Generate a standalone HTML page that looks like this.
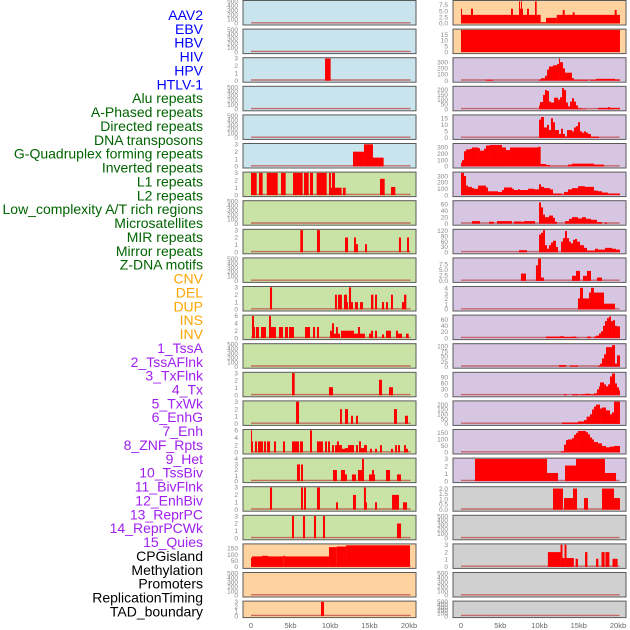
<!DOCTYPE html>
<html><head><meta charset="utf-8">
<style>
html,body{margin:0;padding:0;background:#fff;}
svg{display:block;font-family:"Liberation Sans",sans-serif;}
</style></head>
<body>
<svg id="chart" width="630" height="630" viewBox="0 0 630 630"></svg>
<script>
const labels = ["AAV2","EBV","HBV","HIV","HPV","HTLV-1","Alu repeats","A-Phased repeats","Directed repeats","DNA transposons","G-Quadruplex forming repeats","Inverted repeats","L1 repeats","L2 repeats","Low_complexity A/T rich regions","Microsatellites","MIR repeats","Mirror repeats","Z-DNA motifs","CNV","DEL","DUP","INS","INV","1_TssA","2_TssAFlnk","3_TxFlnk","4_Tx","5_TxWk","6_EnhG","7_Enh","8_ZNF_Rpts","9_Het","10_TssBiv","11_BivFlnk","12_EnhBiv","13_ReprPC","14_ReprPCWk","15_Quies","CPGisland","Methylation","Promoters","ReplicationTiming","TAD_boundary"];
const labelGroups = [6,13,5,15,5];
const groupColors = ["#0000ff","#006400","#ffa500","#a020f0","#000000"];
const xTicks = [0,5,10,15,20];
const xTickLabels = ["0","5kb","10kb","15kb","20kb"];
const E = [0,100,200,300,400,500];
const T3 = [0,1,2,3];
// left column: segments [startKb, endKb, value]
const leftMax = [500,500,3,500,500,3,3,500,3,500,3,6,500,3,3,6,4,3,3,180,500,3];
const leftTicks = [E,E,T3,E,E,T3,T3,E,T3,E,T3,[0,2,4,6],E,T3,T3,[0,2,4,6],[0,1,2,3,4],T3,T3,[0,50,100,150],E,T3];
const leftSegs = [
[],[],[[9.37,10.08,3]],[],[],
[[12.91,14.3,2],[14.3,15.44,3],[15.44,16.79,1.2]],
[[0,0.72,3],[1.01,1.47,3],[2.0,3.38,3],[3.8,4.39,3],[5.32,6.54,3],[6.71,7.3,3],[7.47,7.85,3],[8.31,9.58,3],[9.87,10.12,3],[10.25,10.63,3],[9.95,11.47,1],[11.64,11.98,1],[16.33,16.92,2.2],[17.72,18.27,1.1]],
[],
[[6.24,6.58,3],[8.35,8.73,3],[11.9,12.28,2],[13.04,13.29,2],[13.29,13.54,1.1],[14.43,14.68,1.1],[18.73,18.99,2],[19.75,20.0,2]],
[],
[[2.4,2.66,3],[10.63,10.88,2],[11.01,11.51,2],[11.77,12.15,2],[12.15,12.28,1],[12.4,12.66,3],[12.66,12.91,1],[13.16,13.54,1],[13.8,14.17,1],[15.19,15.49,2],[15.7,15.95,2],[16.58,16.84,1],[17.09,17.34,1],[17.72,17.97,2],[19.11,19.37,1],[19.37,19.66,2]],
[[0.13,0.38,6],[0.38,0.5,3],[0.63,1.01,3],[1.27,1.9,3],[2.28,2.53,6],[2.28,3.16,3],[3.54,4.05,3],[4.3,4.68,3],[4.81,5.44,3],[6.84,7.47,3],[7.85,8.1,3],[8.35,8.6,3],[10.0,10.25,2],[10.25,10.5,4],[10.5,11.27,1.2],[10.76,11.0,3],[11.39,13.04,2],[13.04,14.43,1.2],[13.54,13.8,3],[14.94,15.44,1.2],[15.19,15.44,2],[15.7,15.95,2],[16.58,16.84,1],[17.09,17.72,2],[18.35,18.6,2],[18.6,19.11,1.2],[19.62,19.96,1.2]],
[],
[[5.19,5.53,3],[9.87,10.38,1.1],[16.2,16.58,2.1],[17.47,17.97,1.1]],
[[5.7,6.08,3],[11.27,11.51,2],[11.9,12.28,2],[12.66,12.91,1.1],[13.29,13.54,1.1],[18.1,18.48,2],[19.49,19.87,1.1]],
[[0,0.13,6],[0.13,0.25,3],[0.5,0.76,3],[0.88,1.52,3],[1.65,1.9,3],[2.03,2.41,3],[2.91,3.16,3],[4.05,4.3,3],[5.19,6.08,3],[6.2,6.58,3],[7.47,7.72,6],[8.35,9.11,3],[9.37,9.62,3],[9.75,10.0,3],[10.25,10.5,2],[10.63,11.51,2],[10.88,11.14,3],[11.51,11.9,1],[11.9,12.28,1.2],[12.28,13.04,2],[13.29,13.54,2],[13.67,13.92,3],[13.8,14.43,1.2],[14.3,14.68,2],[15.06,15.32,1],[15.7,15.95,1],[16.33,16.58,2],[17.72,17.97,1],[18.23,18.48,2],[18.61,18.86,2],[19.37,19.62,2],[19.62,19.87,1]],
[[5.82,6.2,3],[6.33,6.58,3],[10.38,10.88,2],[11.39,11.9,2],[11.9,12.15,1.2],[12.78,13.29,1.2],[13.54,14.3,2],[14.05,14.3,4],[14.94,15.7,1.2],[15.32,15.57,2],[17.09,17.6,2],[18.48,18.99,1.2]],
[[2.4,2.66,3],[6.33,6.58,3],[6.71,6.96,3],[8.35,8.73,3],[10.76,11.01,1],[12.91,13.29,2],[14.3,14.55,3],[14.43,14.68,1],[15.7,15.95,1],[17.85,18.73,2],[19.24,19.75,1]],
[[5.19,5.44,3],[6.58,6.84,3],[7.97,8.23,3],[9.11,9.37,3],[18.48,18.99,2]],
[[0,0.13,75],[0.13,1.39,85],[1.39,2.15,90],[2.15,4.09,85],[4.09,4.3,90],[4.3,9.87,85],[9.87,10.84,160],[10.84,12.03,165],[12.03,20.13,175]],
[],
[[8.86,9.24,3]]
];
// right column
const rightMax = [9,19,360,230,17,350,350,68,125,10,4.2,72,108,112,230,170,3,2.1,500,3,500,500];
const rightTicks = [[0,2.5,5,7.5],[0,5,10,15],[0,100,200,300],[0,50,100,150,200],[0,5,10,15],[0,100,200,300],[0,100,200,300],[0,20,40,60],[0,30,60,90,120],[0,2.5,5,7.5],[0,1,2,3,4],[0,20,40,60],[0,25,50,75,100],[0,30,60,90],[0,50,100,150,200],[0,50,100,150],T3,[0,0.5,1,1.5,2],E,T3,E,E];
const rightSegs = [
[[0,10.15,3.5],[0,0.13,6],[1.27,1.53,6],[6.37,6.62,6],[7.39,7.9,6],[7.39,7.52,9],[7.64,7.77,9],[8.41,8.66,6],[9.43,9.64,9],[10.15,10.83,0.5],[10.83,12.19,2.3],[12.19,20.25,3.5],[12.95,13.21,5.5],[14.23,14.48,4.5],[19.58,19.83,5.5]],
[[0,20.25,19]],
[[3.18,4.08,15],[9.94,10.19,20],[10.19,10.7,40],[10.7,10.96,80],[10.96,11.21,180],[11.21,11.72,230],[11.72,12.23,250],[12.23,12.48,270],[12.48,12.61,360],[12.61,12.99,300],[12.99,13.25,200],[13.25,14.14,130],[14.14,14.39,40],[14.39,16.18,15],[16.43,17.2,15],[17.2,19.62,30],[19.62,20.25,20]],
[[9.94,10.06,40],[10.06,10.45,75],[10.45,10.7,150],[10.7,10.96,200],[10.96,11.21,190],[11.21,11.46,80],[11.46,11.85,70],[11.85,12.36,120],[12.36,12.61,100],[12.61,12.87,125],[12.87,13.12,220],[13.12,13.38,200],[13.38,13.63,70],[13.63,13.89,30],[13.89,14.14,80],[14.14,14.39,115],[14.39,14.65,80],[14.65,14.9,40],[14.9,15.41,10],[15.41,15.92,5],[17.45,20.25,15],[18.73,18.98,22]],
[[9.94,10.19,14],[10.19,10.57,16],[10.57,10.96,8],[10.96,11.21,10],[11.21,11.46,6],[11.46,11.72,15],[11.72,11.97,12],[11.97,12.48,6],[12.48,12.74,3],[12.74,12.99,7],[12.99,13.25,3],[13.25,13.5,1],[13.5,14.14,6],[14.14,14.39,5],[14.39,14.65,8],[14.65,14.9,9],[14.9,15.16,12],[15.16,15.41,5],[15.41,15.67,4],[15.67,15.92,5],[15.92,16.18,4],[16.18,16.56,3],[16.56,17.58,1]],
[[0,0.13,60],[0.13,0.38,100],[0.38,0.64,240],[0.64,1.15,270],[1.15,1.4,280],[1.4,2.17,300],[2.17,2.42,290],[2.42,2.93,250],[2.93,3.18,280],[3.18,3.69,330],[3.69,5.22,340],[5.22,5.73,300],[5.73,6.24,260],[6.24,9.81,300],[9.81,10.15,310],[10.15,10.83,40],[10.83,11.34,25],[11.34,13.63,5],[13.63,14.14,30],[14.14,16.94,45],[16.94,18.22,30]],
[[0,0.38,350],[0.38,0.64,300],[0.64,0.89,150],[0.89,1.4,130],[1.4,1.66,110],[1.66,2.17,100],[2.17,3.18,150],[3.18,3.44,120],[3.44,4.71,60],[4.71,5.22,50],[5.22,5.48,80],[5.48,6.5,120],[6.5,6.75,100],[6.75,7.26,80],[7.26,7.52,90],[7.52,8.54,80],[8.54,9.3,100],[9.3,9.94,90],[9.94,10.19,170],[10.19,10.57,130],[10.57,11.34,110],[11.34,11.72,90],[11.72,12.87,25],[12.87,13.12,10],[13.12,13.63,50],[13.63,14.14,90],[14.14,14.9,110],[14.9,15.8,140],[15.8,16.94,130],[16.94,17.45,70],[17.45,17.96,60],[17.96,18.73,40],[18.73,20.25,25]],
[[1.4,2.42,8],[3.57,4.2,6],[4.59,6.5,8],[6.75,7.64,7],[7.64,8.03,6],[8.03,9.43,8],[9.94,10.19,65],[10.19,10.45,50],[10.45,10.7,28],[10.7,11.21,20],[11.21,11.72,25],[11.72,11.97,18],[11.97,12.23,6],[13.25,13.76,8],[13.76,14.14,15],[14.14,14.9,20],[14.9,15.41,16],[15.41,15.92,20],[15.92,16.56,15],[16.56,17.32,12],[17.32,17.96,5],[18.34,18.6,4]],
[[7.39,8.41,12],[9.94,10.19,100],[10.19,10.45,110],[10.45,10.7,125],[10.7,10.96,40],[10.96,11.21,20],[11.21,11.46,40],[11.46,11.72,55],[11.72,12.1,65],[12.1,12.36,30],[12.74,12.99,60],[12.99,13.25,80],[13.25,13.5,120],[13.5,13.76,80],[13.76,14.01,60],[14.01,14.27,50],[14.27,14.52,70],[14.52,14.78,75],[14.78,15.16,60],[15.16,15.67,40],[15.67,16.05,25],[16.05,17.07,10],[17.07,17.45,20],[17.45,18.34,15],[18.34,19.24,25],[19.24,19.75,20],[19.75,20.25,15]],
[[7.64,8.28,3.3],[9.55,9.81,7],[9.81,10.19,10],[10.19,10.57,1.5],[14.14,14.78,2.3],[14.65,15.16,4.5],[15.54,16.05,2.3],[16.05,16.56,4.5],[17.32,17.96,1.5]],
[[14.9,15.16,2.1],[15.16,15.54,4.1],[15.54,16.31,2.1],[16.31,16.56,3.2],[16.56,16.94,4.1],[16.94,18.22,3.2],[18.22,19.62,1.1]],
[[10.83,12.61,5],[12.61,13.12,6],[13.12,14.14,4],[14.14,14.65,5],[14.65,14.9,2],[16.05,16.56,5],[16.94,17.2,5],[17.2,17.58,8],[17.58,17.83,15],[17.83,18.09,22],[18.09,18.34,40],[18.34,18.6,55],[18.6,18.85,65],[18.85,19.11,70],[19.11,19.36,55],[19.36,19.62,58],[19.62,19.87,40],[19.87,20.25,38]],
[[12.48,13.38,8],[13.89,14.9,6],[17.45,17.71,5],[17.71,17.96,15],[17.96,18.22,40],[18.22,18.47,60],[18.47,19.24,95],[19.24,19.62,105],[19.62,19.87,15],[19.87,20.25,55]],
[[13.12,13.5,5],[14.14,15.03,5],[15.16,15.8,5],[15.8,16.43,8],[16.43,16.94,5],[16.94,17.32,10],[17.32,17.58,30],[17.58,17.71,45],[17.71,18.22,65],[18.22,18.47,55],[18.47,18.73,45],[18.73,18.98,55],[18.98,19.24,95],[19.24,19.62,110],[19.62,19.87,60],[19.87,20.13,40],[20.13,20.25,25]],
[[12.87,14.9,15],[14.9,15.67,25],[15.67,16.0,40],[16.0,16.43,75],[16.43,16.69,100],[16.69,16.94,150],[16.94,17.2,180],[17.2,17.71,200],[17.71,17.96,160],[17.96,18.47,170],[18.47,18.98,140],[18.98,19.24,100],[19.24,19.49,120],[19.49,20.25,230]],
[[12.74,13.12,10],[13.12,13.38,60],[13.38,13.63,95],[13.63,14.14,100],[14.14,14.39,110],[14.39,14.65,135],[14.65,14.9,150],[14.9,15.92,165],[15.92,16.18,155],[16.18,16.43,140],[16.43,16.69,115],[16.69,16.94,100],[16.94,17.45,80],[17.45,17.96,70],[17.96,18.47,50],[18.47,18.98,40],[18.98,19.49,45],[19.49,20.25,50]],
[[1.78,10.96,3],[10.96,12.36,1.1],[13.25,14.65,2.1],[14.65,18.34,3],[18.34,19.75,1.1]],
[[11.72,12.99,2],[13.12,14.27,1.1],[14.27,14.78,2],[15.67,16.18,1.1],[17.96,19.49,2],[19.49,20.25,1.1]],
[],
[[11.07,12.68,2],[12.68,12.93,3],[12.93,13.19,1.2],[13.19,13.44,3],[13.44,14.38,1.2],[14.6,14.9,1.1],[15.8,16.1,2],[17.2,17.5,1.1],[17.9,18.3,2],[18.4,18.9,2],[19.3,19.7,1.1],[19.7,19.95,1.1]],
[],[]
];
const leftBg = ["#c9e4ec","#c9e2a6","#fed3a0"];
const rightBg = ["#fed3a0","#d6c6e1","#d0d0d0"];

const NS = "http://www.w3.org/2000/svg";
const svg = document.getElementById("chart");
function mk(tag, attrs, parent){
  const el = document.createElementNS(NS, tag);
  for (const k in attrs) el.setAttribute(k, attrs[k]);
  (parent||svg).appendChild(el);
  return el;
}
// labels
let li = 0;
labelGroups.forEach((n, g) => {
  for (let j = 0; j < n; j++) {
    const t = mk("text", {x: 203, y: 15 + li*13.87 + 5, "text-anchor": "end", "font-size": 14, fill: groupColors[g]});
    t.textContent = labels[li];
    
    
    li++;
  }
});
function fmt(v, ticks){
  return ticks.some(t => t % 1 !== 0) ? v.toFixed(1) : String(v);
}
function drawPanel(col, i, segs, ymax, ticks, bg){
  const fx = col === 0 ? 243 : 453;
  const x0 = col === 0 ? 251 : 461;
  const kbPx = col === 0 ? 7.9 : 7.85;
  const xs = kb => x0 + kb*kbPx;
  const top = 0.5 + i*28.6;
  const h = i === 21 ? 16.5 : 24.5;
  const yb = top + h - 1.5, yt = top + 0.8;
  const ys = v => yb - (v/ymax)*(yb - yt);
  const g = mk("g", {});
  
  
  const r = mk("rect", {x: fx, y: top, width: 173, height: h, fill: bg, stroke: "#5a5a5a", "stroke-width": 1}, g);
  
  
  ticks.forEach(t => {
    const tx = mk("text", {x: fx - 5, y: ys(t) + 2.2, "text-anchor": "end", "font-size": 6.5, fill: "#888"}, g);
    tx.textContent = fmt(t, ticks);
    
    
  });
  const bl = mk("line", {x1: xs(0), x2: xs(20.2), y1: yb - 0.7, y2: yb - 0.7, stroke: "#c05050", "stroke-width": 1.4, opacity: 0.8}, g);
  
  
  segs.forEach(s => {
    const b = mk("rect", {x: xs(s[0]), y: ys(s[2]), width: Math.max(0.8, xs(s[1]) - xs(s[0])), height: yb - ys(s[2]), fill: "#ff0000"}, g);
    
    
  });
}
for (let i = 0; i < 22; i++) {
  const lb = i < 6 ? leftBg[0] : (i < 19 ? leftBg[1] : leftBg[2]);
  const rb = i < 2 ? rightBg[0] : (i < 17 ? rightBg[1] : rightBg[2]);
  drawPanel(0, i, leftSegs[i], leftMax[i], leftTicks[i], lb);
  drawPanel(1, i, rightSegs[i], rightMax[i], rightTicks[i], rb);
}
[[251,7.9],[461,7.85]].forEach(c => {
  xTicks.forEach((k, j) => {
    const t = mk("text", {x: c[0] + k*c[1], y: 628, "text-anchor": "middle", "font-size": 7.5, fill: "#666"});
    t.textContent = xTickLabels[j];
    
    
  });
});
</script>
</body></html>
